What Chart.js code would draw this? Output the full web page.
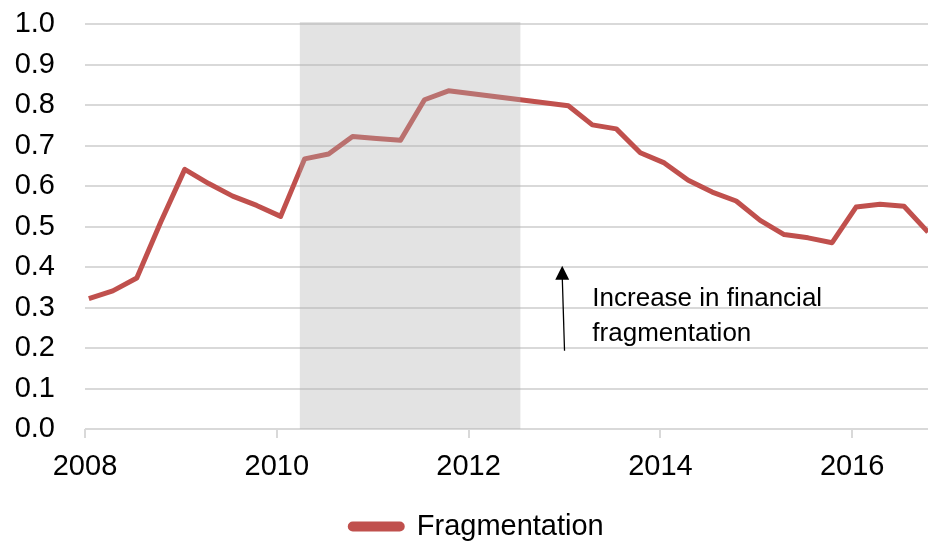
<!DOCTYPE html>
<html>
<head>
<meta charset="utf-8">
<script src="https://cdn.jsdelivr.net/npm/chart.js@4/dist/chart.umd.min.js"></script>
<style>
  html, body { margin: 0; padding: 0; background: #fff; }
  #wrap { width: 928px; height: 547px; }
</style>
</head>
<body>
<div id="wrap"><canvas id="myChart" width="928" height="547"></canvas></div>
<script>
// quarterly observations (decimal year) and fragmentation index
const years = [
  2008.04, 2008.29, 2008.54, 2008.79, 2009.04, 2009.29, 2009.54, 2009.79,
  2010.04, 2010.29, 2010.54, 2010.79, 2011.04, 2011.29, 2011.54, 2011.79,
  2013.04, 2013.29, 2013.54, 2013.79, 2014.04, 2014.29, 2014.54, 2014.79,
  2015.04, 2015.29, 2015.54, 2015.79, 2016.04, 2016.29, 2016.54, 2016.79
];
const fragmentation = [
  0.322, 0.341, 0.373, 0.511, 0.641, 0.606, 0.575, 0.552,
  0.525, 0.667, 0.679, 0.722, 0.717, 0.713, 0.813, 0.835,
  0.798, 0.751, 0.741, 0.682, 0.657, 0.614, 0.585, 0.563,
  0.515, 0.480, 0.472, 0.460, 0.548, 0.555, 0.550, 0.486
];
const xTicks = [2008, 2010, 2012, 2014, 2016];
const shadedPeriod = [2010.24, 2012.54];
const annotationLines = ['Increase in financial', 'fragmentation'];

const FONT = '"Liberation Sans", Arial, sans-serif';
const RED = '#C0504D';

// grey band + arrow annotation, drawn over the line like the original
const overlay = {
  id: 'overlay',
  afterUpdate(chart) {
    // legend sits a bit right of centre in the original
    const lg = chart.legend;
    if (lg) { lg.left += 13; lg.right += 13; }
  },
  afterDatasetsDraw(chart) {
    const ctx = chart.ctx;
    const xs = chart.scales.x, ys = chart.scales.y;
    const area = chart.chartArea;
    ctx.save();
    const x0 = xs.getPixelForValue(shadedPeriod[0]);
    const x1 = xs.getPixelForValue(shadedPeriod[1]);
    ctx.fillStyle = 'rgba(175,175,175,0.35)';
    ctx.fillRect(x0, area.top - 2, x1 - x0, area.bottom - area.top + 2);

    // arrow
    const bx = xs.getPixelForValue(2013.0), by = ys.getPixelForValue(0.193);
    const tx = xs.getPixelForValue(2012.976), ty = ys.getPixelForValue(0.403);
    ctx.strokeStyle = '#000';
    ctx.lineWidth = 1.3;
    ctx.beginPath();
    ctx.moveTo(bx, by);
    ctx.lineTo(tx, ty + 10);
    ctx.stroke();
    ctx.fillStyle = '#000';
    ctx.beginPath();
    ctx.moveTo(tx, ty);
    ctx.lineTo(tx - 7, ty + 14);
    ctx.lineTo(tx + 7, ty + 14);
    ctx.closePath();
    ctx.fill();

    // text
    ctx.font = '26px ' + FONT;
    ctx.textAlign = 'left';
    ctx.textBaseline = 'alphabetic';
    const lx = xs.getPixelForValue(2013.29);
    ctx.fillText(annotationLines[0], lx, ys.getPixelForValue(0.304));
    ctx.fillText(annotationLines[1], lx, ys.getPixelForValue(0.217));
    ctx.restore();
  }
};

const ctx = document.getElementById('myChart').getContext('2d');
const myChart = new Chart(ctx, {
  type: 'line',
  data: {
    datasets: [{
      label: 'Fragmentation',
      data: years.map((y, i) => ({ x: y, y: fragmentation[i] })),
      borderColor: RED,
      backgroundColor: RED,
      borderWidth: 5,
      borderJoinStyle: 'round',
      pointRadius: 0,
      tension: 0
    }]
  },
  options: {
    responsive: false,
    animation: false,
    devicePixelRatio: 1,
    layout: { padding: { top: 24, right: 0, left: 0, bottom: -4 } },
    plugins: {
      tooltip: { enabled: false },
      legend: {
        position: 'bottom',
        labels: {
          color: '#000',
          font: { family: FONT, size: 29 },
          boxWidth: 52,
          boxHeight: 5,
          useBorderRadius: true,
          borderRadius: 2.5,
          padding: 3
        }
      }
    },
    scales: {
      x: {
        type: 'linear',
        min: 2008,
        max: 2016.79,
        afterBuildTicks(scale) {
          scale.ticks = xTicks.map(v => ({ value: v }));
        },
        afterFit(scale) { scale.height = 80; },
        border: { display: false },
        grid: {
          drawOnChartArea: false,
          drawTicks: true,
          tickLength: 9,
          color: '#D9D9D9',
          lineWidth: 2
        },
        ticks: {
          color: '#000',
          font: { family: FONT, size: 29 },
          padding: 12,
          maxRotation: 0,
          callback: v => String(v)
        }
      },
      y: {
        min: 0,
        max: 1,
        afterFit(scale) { scale.width = 85; },
        border: { display: false },
        grid: {
          color: '#D9D9D9',
          lineWidth: 2,
          drawTicks: true,
          tickLength: 30,
          tickColor: 'rgba(0,0,0,0)'
        },
        ticks: {
          stepSize: 0.1,
          autoSkip: false,
          color: '#000',
          font: { family: FONT, size: 29, lineHeight: 1 },
          padding: 0,
          callback: v => Number(v).toFixed(1)
        }
      }
    }
  },
  plugins: [overlay]
});
</script>
</body>
</html>
